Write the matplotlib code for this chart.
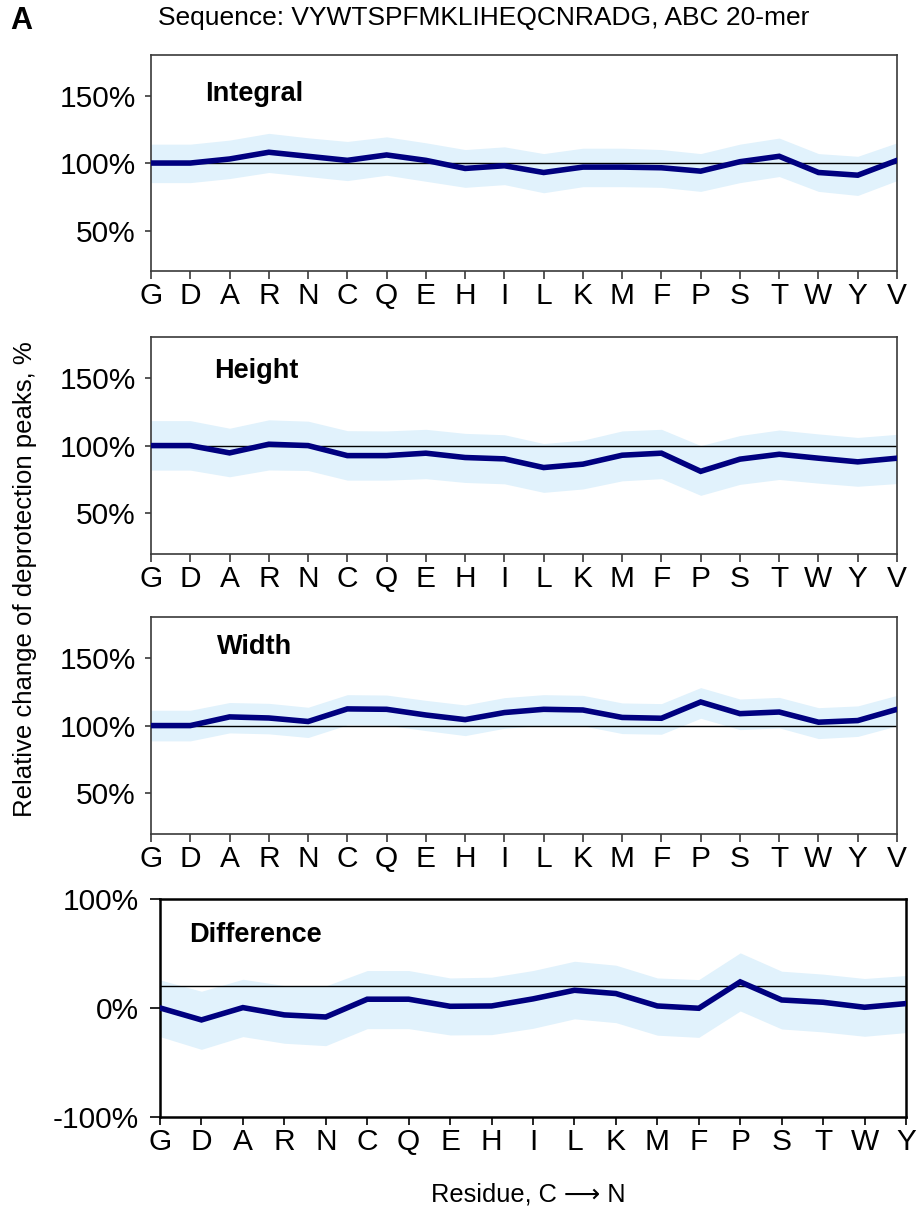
import matplotlib
matplotlib.use("Agg")
import matplotlib.pyplot as plt
from matplotlib.ticker import FuncFormatter

plt.rcParams["font.family"] = ["Liberation Sans", "DejaVu Sans"]

residues = ["G", "D", "A", "R", "N", "C", "Q", "E", "H", "I",
            "L", "K", "M", "F", "P", "S", "T", "W", "Y", "V"]

integral = [100, 100, 103, 108, 105, 102, 106, 102, 96, 98,
            93, 97, 97, 96.5, 94, 101, 105, 93, 91, 102]
integral_hi = [114, 114, 117, 122, 118.7, 116, 119.4, 115, 110, 112,
               107, 111, 111, 110, 107, 114, 118.5, 107, 105, 115]
integral_lo = [85.5, 85.5, 88.5, 93, 90, 87, 91, 86.5, 82, 84,
               78, 82.5, 82.5, 82, 79, 85.5, 90, 79, 76, 87]

height = [100, 100, 94.6, 101, 100, 92.6, 92.6, 94.4, 91.2, 90.2,
          83.8, 86.3, 92.9, 94.4, 81, 90, 93.6, 90.7, 88, 90.7]
height_hi = [118.4, 118.4, 112.8, 119, 118, 111, 110.8, 112, 109, 108,
             101.5, 104, 110.8, 112, 100, 107.4, 111.5, 108.6, 106, 108.3]
height_lo = [81.9, 81.9, 77, 82, 81.6, 74.5, 74.5, 75.6, 72.8, 71.8,
             65.5, 68, 74, 75.6, 63.3, 71.4, 75, 72.3, 70, 72]

width = [100, 100, 106.4, 105.6, 103, 112.3, 112, 107.8, 104.4, 109.6,
         112, 111.5, 106, 105.4, 117.4, 108.8, 110, 102.5, 103.7, 112]
width_hi = [111.3, 111.3, 117, 116.4, 113.5, 122.8, 122.5, 118.6, 115.2, 120.6,
            122.8, 122.3, 116.7, 116.2, 128, 119.6, 120.8, 113.2, 114.5, 122.3]
width_lo = [88.7, 88.7, 94.6, 93.9, 91.2, 100.5, 100.2, 96.3, 92.6, 98,
            100.2, 99.8, 94.1, 93.6, 105.4, 97, 98.3, 90.4, 92, 99.8]

diff = [0, -11, 0.3, -6.4, -8.3, 8, 8, 1.5, 1.8, 8.3,
        16.2, 13.2, 1.8, -0.3, 23.9, 7.3, 5.2, 0.6, 4]
diff_hi = [25.7, 15.3, 26.3, 20.5, 20.2, 34.3, 34.3, 27.5, 28.2, 34.3,
           42.8, 39.2, 27.5, 26, 50.5, 33.7, 31, 27, 29.7]
diff_lo = [-26.3, -38, -26.3, -32.4, -34.6, -19, -19, -24.8, -24.5, -18.7,
           -10, -13.5, -25, -27, -2.8, -19.3, -22, -26, -22.6]

line_color = "#00007f"
band_color = "#e1f2fc"
pct = FuncFormatter(lambda v, p: f"{v:.0f}%")

fig = plt.figure(figsize=(9.17, 12.1), dpi=100)

panels = [
    # rect, title, title pos, labels, values, hi, lo, ylim, yticks, ref line
    ([0.1647, 0.7760, 0.8135, 0.1785], "Integral", (0.072, 0.82), residues, integral, integral_hi, integral_lo, (20, 180), [50, 100, 150], 100),
    ([0.1647, 0.5421, 0.8135, 0.1793], "Height", (0.084, 0.843), residues, height, height_hi, height_lo, (20, 180), [50, 100, 150], 100),
    ([0.1647, 0.3107, 0.8135, 0.1793], "Width", (0.088, 0.862), residues, width, width_hi, width_lo, (20, 180), [50, 100, 150], 100),
    ([0.1745, 0.0769, 0.8135, 0.1802], "Difference", (0.039, 0.835), residues[:19], diff, diff_hi, diff_lo, (-100, 100), [-100, 0, 100], 20),
]

for i, (rect, title, tpos, labels, vals, hi, lo, ylim, yt, ref) in enumerate(panels):
    ax = fig.add_axes(rect)
    x = list(range(len(labels)))
    ax.fill_between(x, lo, hi, color=band_color, lw=0, zorder=1)
    ax.axhline(ref, color="black", lw=1.0, zorder=2)
    ax.plot(x, vals, color=line_color, lw=4.0, solid_joinstyle="miter", zorder=3)
    ax.set_xlim(0, len(labels) - 1)
    ax.set_ylim(*ylim)
    ax.set_yticks(yt)
    ax.yaxis.set_major_formatter(pct)
    ax.set_xticks(x)
    ax.set_xticklabels(labels)
    last = i == 3
    spine_c = "black" if last else "#3a3a3a"
    for s in ax.spines.values():
        s.set_color(spine_c)
        s.set_linewidth(1.8 if last else 1.2)
    ax.tick_params(axis="x", direction="out", length=6, width=1.2, pad=2,
                   labelsize=21.5, color=spine_c)
    ax.tick_params(axis="y", direction="out", length=7 if last else 4,
                   width=1.2, pad=8 if last else 7, labelsize=21.5, color=spine_c)
    ax.text(tpos[0], tpos[1], title, transform=ax.transAxes, fontsize=19.5,
            fontweight="bold", va="center", ha="left")

fig.text(0.011, 0.983, "A", fontsize=22, fontweight="bold", va="center", ha="left")
fig.text(0.172, 0.985, "Sequence: VYWTSPFMKLIHEQCNRADG, ABC 20-mer", fontsize=19,
         va="center", ha="left")
fig.text(0.027, 0.521, "Relative change of deprotection peaks, %", fontsize=18.5,
         rotation=90, va="center", ha="center")
fig.text(0.576, 0.013, "Residue, C \u27f6 N", fontsize=18.3, va="center", ha="center")

fig.savefig("out.png", dpi=100)
